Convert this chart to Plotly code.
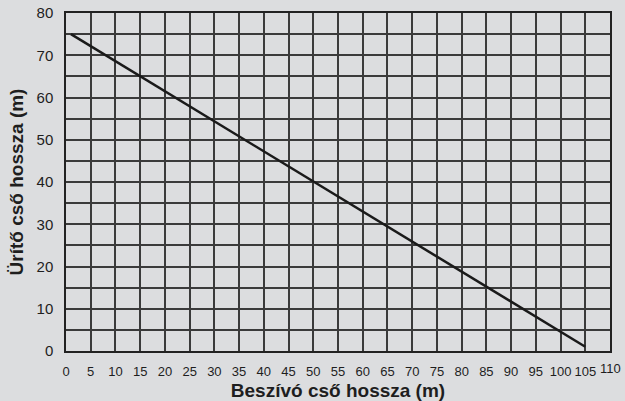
import plotly.graph_objects as go

# Hose length relationship: suction length vs. discharge length
suction_len = [1, 105]
discharge_len = [75, 1]

x_ticks = list(range(0, 111, 5))
y_ticks = list(range(0, 81, 10))

bg = "#dcdddf"
grid = "#3a3a3a"
font_color = "#1e1e1e"

fig = go.Figure()
fig.add_trace(go.Scatter(
    x=suction_len, y=discharge_len, mode="lines",
    line=dict(color="#1a1a1a", width=2.5),
    hoverinfo="skip", showlegend=False,
))

fig.update_layout(
    width=625, height=401,
    margin=dict(l=66, r=15, t=13, b=50),
    paper_bgcolor=bg, plot_bgcolor=bg,
    font=dict(family="Liberation Sans, Arial, sans-serif", color=font_color, size=12),
)

# the last x label sits at the very edge of the frame, so it is placed as an annotation
fig.add_annotation(
    x=x_ticks[-1], xref="x", y=0, yref="paper",
    text=str(x_ticks[-1]), showarrow=False,
    xanchor="center", yanchor="top", yshift=-8,
    font=dict(size=13, color=font_color),
)

fig.update_xaxes(
    range=[0, 110], tickvals=x_ticks[:-1], ticktext=[str(v) for v in x_ticks[:-1]],
    showgrid=True, gridcolor=grid, gridwidth=1.5,
    showline=True, linecolor="#222", linewidth=1.5, mirror=True,
    zeroline=False, ticks="outside", ticklen=8, tickcolor=bg,
    tickfont=dict(size=13), tickangle=0, automargin=False,
    title=dict(text="<b>Beszívó cső hossza (m)</b>", font=dict(size=19), standoff=6),
)
fig.update_yaxes(
    range=[0, 80], tickvals=y_ticks, ticktext=[str(v) for v in y_ticks],
    showgrid=True, gridcolor=grid, gridwidth=1.5,
    minor=dict(dtick=5, tick0=0, showgrid=True, gridcolor=grid, gridwidth=1.5),
    showline=True, linecolor="#222", linewidth=1.5, mirror=True,
    zeroline=False, ticks="outside", ticklen=8, tickcolor=bg,
    tickfont=dict(size=15), automargin=False,
    title=dict(text="<b>Ürítő cső hossza (m)</b>", font=dict(size=19), standoff=8),
)

fig.write_html("out.html")
